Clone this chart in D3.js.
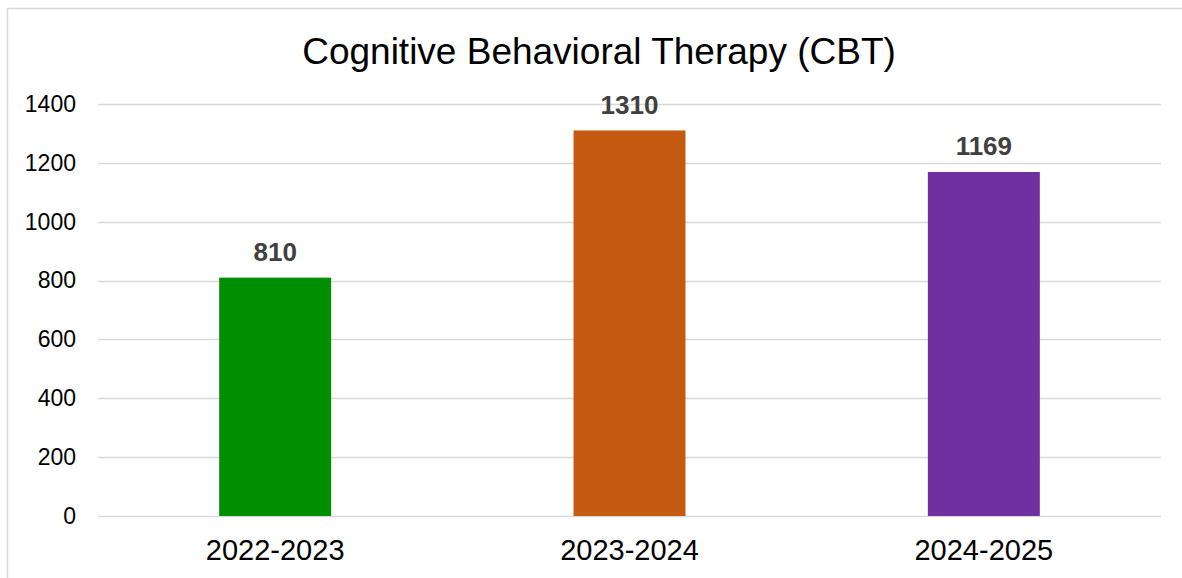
<!DOCTYPE html>
<html>
<head>
<meta charset="utf-8">
<script src="https://cdn.jsdelivr.net/npm/d3@7"></script>
<style>
  body { margin: 0; background: #fff; }
  text { font-family: "Liberation Sans", Arial, sans-serif; }
</style>
</head>
<body>
<div id="chart"></div>
<script>
var years = ["2022-2023", "2023-2024", "2024-2025"];
var counts = [810, 1310, 1169];
var barColors = ["#008f00", "#c55a11", "#7030a0"];
var yTicks = [0, 200, 400, 600, 800, 1000, 1200, 1400];

var svgWidth = 1182;
var svgHeight = 578;

var margin = { top: 104, right: 21, bottom: 62, left: 98 };
var width = svgWidth - margin.left - margin.right;
var height = svgHeight - margin.top - margin.bottom;

var svg = d3.select("#chart")
  .append("svg")
  .attr("width", svgWidth)
  .attr("height", svgHeight);

// chart border
svg.append("rect")
  .attr("x", 7.5)
  .attr("y", 8.5)
  .attr("width", svgWidth)
  .attr("height", svgHeight)
  .attr("fill", "none")
  .attr("stroke", "#d9d9d9")
  .attr("stroke-width", 1.5);

svg.append("text")
  .attr("x", 599)
  .attr("y", 64)
  .attr("text-anchor", "middle")
  .attr("font-size", "37px")
  .attr("fill", "#000")
  .text("Cognitive Behavioral Therapy (CBT)");

var chartGroup = svg.append("g")
  .attr("transform", `translate(${margin.left}, ${margin.top})`);

var xScale = d3.scaleBand()
  .domain(years)
  .range([0, width]);

var yScale = d3.scaleLinear()
  .domain([0, 1400])
  .range([height, 0]);

// gridlines
chartGroup.append("g")
  .selectAll("line")
  .data(yTicks)
  .enter()
  .append("line")
  .attr("x1", 0)
  .attr("x2", width)
  .attr("y1", d => Math.round(yScale(d)) + 0.5)
  .attr("y2", d => Math.round(yScale(d)) + 0.5)
  .attr("stroke", "#d9d9d9")
  .attr("stroke-width", 1.5);

// y axis labels
var leftAxis = d3.axisLeft(yScale).tickValues(yTicks).tickFormat(d3.format("d")).tickSize(0).tickPadding(22);
var yAxis = chartGroup.append("g").call(leftAxis);
yAxis.select(".domain").remove();
yAxis.selectAll("text")
  .attr("font-size", "23px")
  .attr("fill", "#000")
  .attr("font-family", "Liberation Sans, Arial, sans-serif");

// x axis labels
var bottomAxis = d3.axisBottom(xScale).tickSize(0).tickPadding(23);
var xAxis = chartGroup.append("g")
  .attr("transform", `translate(0, ${height})`)
  .call(bottomAxis);
xAxis.select(".domain").remove();
xAxis.selectAll("text")
  .attr("font-size", "29px")
  .attr("fill", "#000")
  .attr("font-family", "Liberation Sans, Arial, sans-serif");

// bars
var barW = xScale.bandwidth() * 0.316;
var bars = chartGroup.selectAll(".bar")
  .data(counts)
  .enter();

bars.append("rect")
  .attr("x", (d, i) => xScale(years[i]) + xScale.bandwidth() / 2 - barW / 2)
  .attr("y", d => yScale(d))
  .attr("width", barW)
  .attr("height", d => height - yScale(d))
  .attr("fill", (d, i) => barColors[i]);

bars.append("text")
  .attr("x", (d, i) => xScale(years[i]) + xScale.bandwidth() / 2)
  .attr("y", d => yScale(d) - 17)
  .attr("text-anchor", "middle")
  .attr("font-size", "26px")
  .attr("font-weight", "bold")
  .attr("fill", "#404040")
  .text(d => d);
</script>
</body>
</html>
